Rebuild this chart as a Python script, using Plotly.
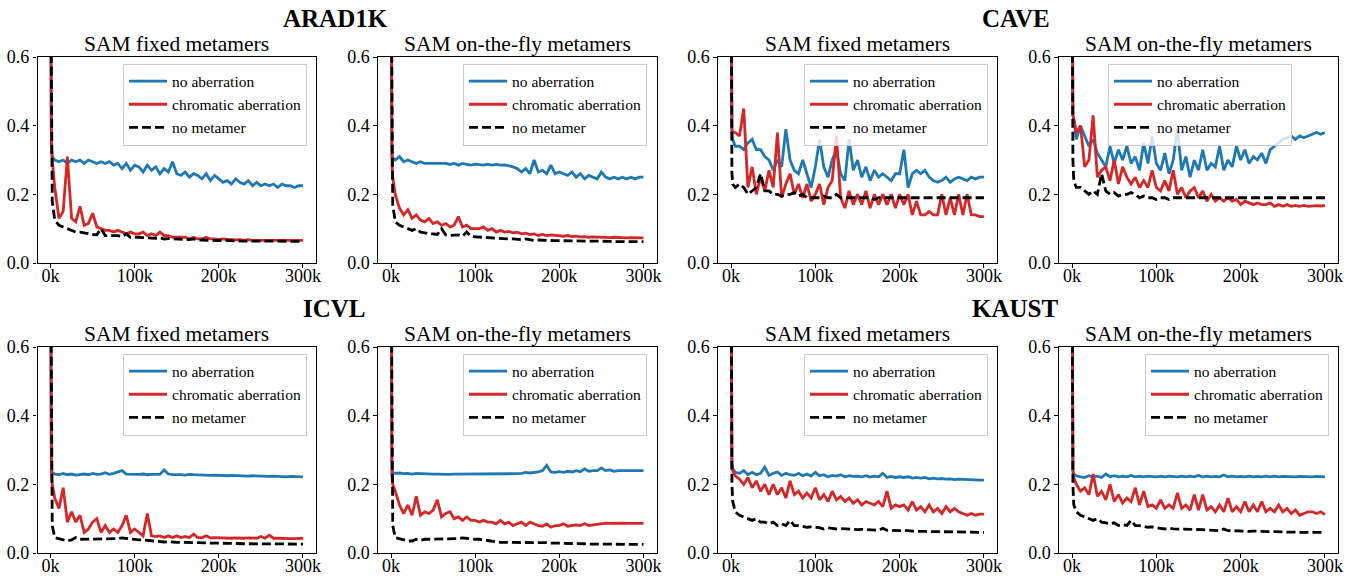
import plotly.graph_objects as go

# ---------------- data ----------------
steps_k = [0, 1, 2,
           5, 10, 15, 20, 25, 30, 35, 40, 45, 50,
           55, 60, 65, 70, 75, 80, 85, 90, 95, 100,
           105, 110, 115, 120, 125, 130, 135, 140, 145, 150,
           155, 160, 165, 170, 175, 180, 185, 190, 195, 200,
           205, 210, 215, 220, 225, 230, 235, 240, 245, 250,
           255, 260, 265, 270, 275, 280, 285, 290, 295, 300]

series_names = ["no aberration", "chromatic aberration", "no metamer"]
group_titles = ["ARAD1K", "CAVE", "ICVL", "KAUST"]
panel_titles = ["SAM fixed metamers", "SAM on-the-fly metamers"]
y_ticks = [0.0, 0.2, 0.4, 0.6]
y_tick_labels = ["0.0", "0.2", "0.4", "0.6"]
x_ticks = [0, 100, 200, 300]
x_tick_labels = ["0k", "100k", "200k", "300k"]

# ARAD1K fixed
arad_fixed_noab = [0.95, 0.34, 0.31,
    0.30, 0.295, 0.30, 0.29, 0.30, 0.295, 0.30, 0.29, 0.30, 0.295,
    0.29, 0.295, 0.29, 0.295, 0.285, 0.29, 0.275, 0.29, 0.27, 0.285,
    0.28, 0.265, 0.285, 0.27, 0.28, 0.26, 0.275, 0.265, 0.295, 0.26,
    0.255, 0.265, 0.25, 0.26, 0.255, 0.245, 0.26, 0.24, 0.255, 0.245,
    0.235, 0.24, 0.23, 0.245, 0.235, 0.23, 0.24, 0.225, 0.235, 0.225,
    0.23, 0.225, 0.23, 0.22, 0.23, 0.225, 0.225, 0.22, 0.225, 0.225]
arad_fixed_chrom = [0.95, 0.34, 0.30,
    0.22, 0.13, 0.15, 0.31, 0.13, 0.12, 0.165, 0.11, 0.115, 0.145,
    0.105, 0.10, 0.095, 0.095, 0.09, 0.095, 0.09, 0.085, 0.09, 0.085,
    0.085, 0.09, 0.08, 0.085, 0.08, 0.09, 0.08, 0.08, 0.075, 0.075,
    0.075, 0.075, 0.07, 0.075, 0.07, 0.07, 0.075, 0.07, 0.07, 0.068,
    0.07, 0.068, 0.068, 0.067, 0.068, 0.066, 0.068, 0.066, 0.067, 0.066,
    0.066, 0.067, 0.066, 0.066, 0.067, 0.066, 0.066, 0.066, 0.067, 0.066]
arad_fixed_nomet = [0.95, 0.30, 0.18,
    0.125, 0.11, 0.105, 0.10, 0.095, 0.09, 0.09, 0.087, 0.085, 0.083,
    0.082, 0.10, 0.08, 0.08, 0.078, 0.08, 0.077, 0.085, 0.075, 0.076,
    0.075, 0.074, 0.073, 0.073, 0.072, 0.074, 0.07, 0.071, 0.07, 0.07,
    0.069, 0.069, 0.068, 0.07, 0.067, 0.067, 0.066, 0.066, 0.066, 0.065,
    0.066, 0.065, 0.064, 0.065, 0.064, 0.064, 0.064, 0.063, 0.064, 0.063,
    0.063, 0.064, 0.063, 0.063, 0.063, 0.063, 0.062, 0.063, 0.063, 0.063]

# ARAD1K on-the-fly
arad_fly_noab = [0.95, 0.32, 0.305,
    0.30, 0.31, 0.295, 0.30, 0.295, 0.29, 0.295, 0.29, 0.29, 0.29,
    0.29, 0.288, 0.29, 0.287, 0.29, 0.285, 0.29, 0.287, 0.285, 0.288,
    0.286, 0.285, 0.288, 0.285, 0.287, 0.285, 0.286, 0.284, 0.28, 0.275,
    0.265, 0.275, 0.26, 0.30, 0.265, 0.27, 0.26, 0.285, 0.26, 0.265,
    0.26, 0.255, 0.265, 0.25, 0.26, 0.245, 0.255, 0.25, 0.245, 0.265,
    0.25, 0.245, 0.25, 0.245, 0.25, 0.245, 0.25, 0.245, 0.25, 0.25]
arad_fly_chrom = [0.95, 0.30, 0.25,
    0.20, 0.16, 0.14, 0.155, 0.13, 0.14, 0.125, 0.12, 0.13, 0.115,
    0.12, 0.11, 0.115, 0.105, 0.11, 0.135, 0.105, 0.11, 0.10, 0.10,
    0.10, 0.105, 0.095, 0.10, 0.09, 0.095, 0.09, 0.092, 0.088, 0.09,
    0.085, 0.087, 0.083, 0.085, 0.08, 0.083, 0.08, 0.082, 0.08, 0.08,
    0.078, 0.08, 0.077, 0.078, 0.076, 0.077, 0.075, 0.076, 0.075, 0.075,
    0.075, 0.074, 0.075, 0.074, 0.074, 0.073, 0.074, 0.073, 0.073, 0.073]
arad_fly_nomet = [0.95, 0.28, 0.17,
    0.12, 0.11, 0.105, 0.10, 0.095, 0.10, 0.09, 0.088, 0.085, 0.085,
    0.083, 0.10, 0.082, 0.08, 0.08, 0.082, 0.078, 0.09, 0.077, 0.076,
    0.075, 0.074, 0.074, 0.073, 0.072, 0.072, 0.071, 0.07, 0.07, 0.069,
    0.068, 0.07, 0.067, 0.066, 0.067, 0.066, 0.065, 0.066, 0.065, 0.065,
    0.065, 0.064, 0.064, 0.064, 0.063, 0.063, 0.064, 0.063, 0.063, 0.063,
    0.063, 0.063, 0.062, 0.063, 0.062, 0.062, 0.062, 0.062, 0.062, 0.062]

# CAVE fixed
cave_fixed_noab = [0.95, 0.38, 0.36,
    0.34, 0.34, 0.33, 0.35, 0.36, 0.33, 0.33, 0.31, 0.30, 0.27,
    0.30, 0.28, 0.39, 0.30, 0.27, 0.26, 0.30, 0.26, 0.22, 0.28,
    0.36, 0.28, 0.25, 0.30, 0.33, 0.26, 0.24, 0.36, 0.27, 0.30,
    0.25, 0.28, 0.24, 0.27, 0.25, 0.26, 0.25, 0.24, 0.26, 0.26,
    0.33, 0.22, 0.26, 0.27, 0.26, 0.27, 0.25, 0.24, 0.235, 0.24,
    0.25, 0.235, 0.245, 0.25, 0.245, 0.24, 0.25, 0.245, 0.25, 0.25]
cave_fixed_chrom = [0.95, 0.39, 0.38,
    0.38, 0.37, 0.45, 0.22, 0.28, 0.20, 0.25, 0.21, 0.27, 0.22,
    0.38, 0.19, 0.23, 0.26, 0.20, 0.23, 0.19, 0.23, 0.18, 0.20,
    0.23, 0.17, 0.22, 0.24, 0.37, 0.19, 0.16, 0.21, 0.17, 0.20,
    0.17, 0.21, 0.16, 0.20, 0.17, 0.20, 0.17, 0.20, 0.16, 0.20,
    0.17, 0.20, 0.14, 0.18, 0.14, 0.14, 0.15, 0.14, 0.14, 0.20,
    0.14, 0.19, 0.14, 0.20, 0.14, 0.20, 0.14, 0.14, 0.135, 0.135]
cave_fixed_nomet = [0.95, 0.26, 0.23,
    0.22, 0.23, 0.22, 0.20, 0.21, 0.22, 0.26, 0.21, 0.21, 0.20,
    0.20, 0.195, 0.20, 0.20, 0.205, 0.195, 0.20, 0.19, 0.19, 0.19,
    0.19, 0.195, 0.19, 0.19, 0.20, 0.19, 0.19, 0.19, 0.19, 0.19,
    0.19, 0.19, 0.19, 0.185, 0.19, 0.19, 0.19, 0.19, 0.19, 0.19,
    0.19, 0.19, 0.19, 0.19, 0.19, 0.19, 0.19, 0.19, 0.19, 0.19,
    0.19, 0.19, 0.19, 0.19, 0.19, 0.19, 0.19, 0.19, 0.19, 0.19]

# CAVE on-the-fly
cave_fly_noab = [0.95, 0.43, 0.42,
    0.36, 0.40, 0.37, 0.34, 0.36, 0.32, 0.30, 0.28, 0.34, 0.29,
    0.33, 0.30, 0.34, 0.29, 0.31, 0.27, 0.35, 0.29, 0.37, 0.29,
    0.27, 0.32, 0.26, 0.30, 0.39, 0.27, 0.31, 0.25, 0.30, 0.27,
    0.33, 0.27, 0.29, 0.28, 0.34, 0.27, 0.30, 0.28, 0.34, 0.30,
    0.33, 0.29, 0.31, 0.30, 0.32, 0.29, 0.33, 0.34, 0.35, 0.36,
    0.365, 0.37, 0.36, 0.37, 0.365, 0.37, 0.375, 0.38, 0.375, 0.38]
cave_fly_chrom = [0.95, 0.43, 0.42,
    0.38, 0.40, 0.28, 0.30, 0.43, 0.25, 0.27, 0.28, 0.24, 0.30,
    0.23, 0.28, 0.25, 0.23, 0.25, 0.22, 0.24, 0.22, 0.27, 0.22,
    0.21, 0.24, 0.21, 0.27, 0.20, 0.22, 0.19, 0.21, 0.22, 0.19,
    0.21, 0.18, 0.20, 0.18, 0.19, 0.18, 0.19, 0.18, 0.185, 0.17,
    0.18, 0.175, 0.17, 0.175, 0.17, 0.17, 0.175, 0.165, 0.17, 0.165,
    0.17, 0.165, 0.168, 0.165, 0.168, 0.165, 0.167, 0.167, 0.166, 0.167]
cave_fly_nomet = [0.95, 0.30, 0.24,
    0.22, 0.22, 0.21, 0.20, 0.21, 0.20, 0.26, 0.21, 0.20, 0.205,
    0.195, 0.20, 0.20, 0.205, 0.20, 0.19, 0.195, 0.19, 0.19, 0.185,
    0.19, 0.19, 0.185, 0.19, 0.19, 0.19, 0.19, 0.19, 0.19, 0.19,
    0.19, 0.19, 0.19, 0.19, 0.19, 0.19, 0.19, 0.19, 0.19, 0.19,
    0.19, 0.19, 0.19, 0.19, 0.19, 0.19, 0.19, 0.19, 0.19, 0.19,
    0.19, 0.19, 0.19, 0.19, 0.19, 0.19, 0.19, 0.19, 0.19, 0.19]

# ICVL fixed
icvl_fixed_noab = [0.95, 0.25, 0.235,
    0.23, 0.228, 0.232, 0.228, 0.23, 0.227, 0.228, 0.23, 0.228, 0.232,
    0.229, 0.23, 0.234, 0.229, 0.232, 0.235, 0.24, 0.23, 0.229, 0.23,
    0.229, 0.23, 0.228, 0.229, 0.228, 0.229, 0.242, 0.23, 0.228, 0.229,
    0.228, 0.227, 0.229, 0.228, 0.227, 0.228, 0.227, 0.226, 0.227, 0.226,
    0.226, 0.225, 0.226, 0.225, 0.226, 0.225, 0.224, 0.225, 0.224, 0.224,
    0.224, 0.223, 0.224, 0.223, 0.223, 0.222, 0.223, 0.222, 0.222, 0.222]
icvl_fixed_chrom = [0.95, 0.24, 0.20,
    0.16, 0.13, 0.19, 0.09, 0.12, 0.09, 0.11, 0.06, 0.07, 0.09,
    0.10, 0.06, 0.08, 0.06, 0.07, 0.06, 0.08, 0.11, 0.06, 0.07,
    0.06, 0.05, 0.115, 0.05, 0.048, 0.05, 0.045, 0.05, 0.045, 0.05,
    0.045, 0.048, 0.045, 0.055, 0.045, 0.045, 0.05, 0.044, 0.045, 0.044,
    0.045, 0.044, 0.043, 0.044, 0.043, 0.043, 0.044, 0.043, 0.043, 0.048,
    0.043, 0.052, 0.043, 0.043, 0.042, 0.043, 0.042, 0.042, 0.043, 0.043]
icvl_fixed_nomet = [0.95, 0.20, 0.08,
    0.045, 0.042, 0.04, 0.035, 0.038, 0.045, 0.04, 0.04, 0.04, 0.04,
    0.04, 0.04, 0.04, 0.04, 0.04, 0.042, 0.044, 0.042, 0.04, 0.04,
    0.038, 0.038, 0.037, 0.035, 0.033, 0.032, 0.032, 0.033, 0.031, 0.031,
    0.031, 0.03, 0.03, 0.03, 0.03, 0.029, 0.029, 0.029, 0.029, 0.028,
    0.028, 0.028, 0.028, 0.027, 0.027, 0.027, 0.027, 0.027, 0.026, 0.026,
    0.026, 0.026, 0.026, 0.026, 0.026, 0.026, 0.026, 0.026, 0.026, 0.026]

# ICVL on-the-fly
icvl_fly_noab = [0.95, 0.25, 0.235,
    0.232, 0.233, 0.231, 0.232, 0.23, 0.232, 0.231, 0.23, 0.231, 0.23,
    0.23, 0.229, 0.23, 0.229, 0.23, 0.23, 0.229, 0.23, 0.229, 0.229,
    0.229, 0.23, 0.229, 0.23, 0.229, 0.23, 0.23, 0.231, 0.23, 0.231,
    0.232, 0.235, 0.233, 0.234, 0.236, 0.24, 0.255, 0.236, 0.235, 0.237,
    0.235, 0.238, 0.236, 0.24, 0.237, 0.245, 0.238, 0.24, 0.24, 0.248,
    0.24, 0.242, 0.238, 0.24, 0.24, 0.241, 0.24, 0.241, 0.24, 0.24]
icvl_fly_chrom = [0.95, 0.23, 0.20,
    0.18, 0.14, 0.115, 0.14, 0.11, 0.165, 0.11, 0.12, 0.115, 0.125,
    0.155, 0.105, 0.115, 0.12, 0.10, 0.105, 0.095, 0.105, 0.095, 0.095,
    0.09, 0.095, 0.09, 0.09, 0.085, 0.095, 0.085, 0.09, 0.08, 0.085,
    0.09, 0.08, 0.09, 0.085, 0.08, 0.078, 0.085, 0.075, 0.08, 0.08,
    0.085, 0.078, 0.08, 0.082, 0.08, 0.085, 0.08, 0.082, 0.085, 0.087,
    0.087, 0.086, 0.087, 0.086, 0.087, 0.086, 0.086, 0.086, 0.086, 0.086]
icvl_fly_nomet = [0.95, 0.20, 0.08,
    0.045, 0.042, 0.037, 0.035, 0.035, 0.04, 0.037, 0.04, 0.04, 0.04,
    0.04, 0.04, 0.04, 0.04, 0.04, 0.042, 0.044, 0.042, 0.04, 0.04,
    0.04, 0.038, 0.037, 0.035, 0.032, 0.031, 0.031, 0.031, 0.032, 0.031,
    0.031, 0.031, 0.03, 0.03, 0.03, 0.03, 0.03, 0.029, 0.029, 0.028,
    0.028, 0.027, 0.027, 0.027, 0.027, 0.027, 0.026, 0.026, 0.026, 0.026,
    0.026, 0.026, 0.025, 0.025, 0.025, 0.025, 0.025, 0.025, 0.025, 0.025]

# KAUST fixed
kaust_fixed_noab = [0.95, 0.26, 0.245,
    0.235, 0.232, 0.24, 0.228, 0.235, 0.228, 0.232, 0.25, 0.226, 0.232,
    0.236, 0.226, 0.232, 0.228, 0.226, 0.232, 0.225, 0.23, 0.224, 0.235,
    0.225, 0.228, 0.222, 0.226, 0.224, 0.228, 0.222, 0.225, 0.223, 0.224,
    0.222, 0.225, 0.221, 0.224, 0.222, 0.232, 0.22, 0.223, 0.22, 0.222,
    0.22, 0.222, 0.218, 0.22, 0.218, 0.22, 0.216, 0.218, 0.216, 0.217,
    0.215, 0.216, 0.214, 0.215, 0.214, 0.214, 0.213, 0.213, 0.212, 0.212]
kaust_fixed_chrom = [0.95, 0.25, 0.24,
    0.225, 0.215, 0.20, 0.22, 0.19, 0.21, 0.18, 0.20, 0.17, 0.20,
    0.17, 0.19, 0.16, 0.21, 0.17, 0.18, 0.16, 0.175, 0.16, 0.19,
    0.155, 0.17, 0.15, 0.18, 0.155, 0.165, 0.15, 0.16, 0.145, 0.155,
    0.14, 0.15, 0.145, 0.14, 0.15, 0.135, 0.18, 0.13, 0.14, 0.135,
    0.14, 0.125, 0.15, 0.125, 0.135, 0.12, 0.14, 0.12, 0.13, 0.115,
    0.135, 0.12, 0.13, 0.12, 0.115, 0.11, 0.115, 0.11, 0.113, 0.113]
kaust_fixed_nomet = [0.95, 0.20, 0.15,
    0.12, 0.11, 0.105, 0.10, 0.095, 0.10, 0.09, 0.09, 0.085, 0.09,
    0.08, 0.085, 0.08, 0.095, 0.08, 0.08, 0.078, 0.075, 0.076, 0.075,
    0.074, 0.07, 0.073, 0.072, 0.07, 0.071, 0.07, 0.07, 0.07, 0.068,
    0.069, 0.068, 0.066, 0.067, 0.066, 0.072, 0.066, 0.066, 0.065, 0.065,
    0.066, 0.064, 0.064, 0.063, 0.064, 0.063, 0.062, 0.063, 0.062, 0.062,
    0.062, 0.061, 0.062, 0.061, 0.061, 0.061, 0.06, 0.06, 0.06, 0.06]

# KAUST on-the-fly
kaust_fly_noab = [0.95, 0.24, 0.23,
    0.225, 0.222, 0.22, 0.225, 0.222, 0.224, 0.22, 0.23, 0.222, 0.225,
    0.222, 0.224, 0.222, 0.226, 0.222, 0.224, 0.222, 0.224, 0.222, 0.222,
    0.224, 0.222, 0.224, 0.222, 0.222, 0.224, 0.222, 0.224, 0.222, 0.226,
    0.222, 0.224, 0.222, 0.223, 0.222, 0.227, 0.222, 0.224, 0.222, 0.223,
    0.222, 0.224, 0.222, 0.223, 0.222, 0.224, 0.222, 0.224, 0.222, 0.223,
    0.222, 0.223, 0.222, 0.223, 0.222, 0.222, 0.222, 0.223, 0.222, 0.222]
kaust_fly_chrom = [0.95, 0.24, 0.22,
    0.20, 0.18, 0.19, 0.17, 0.23, 0.165, 0.18, 0.155, 0.20, 0.15,
    0.17, 0.145, 0.16, 0.15, 0.19, 0.14, 0.18, 0.135, 0.14, 0.13,
    0.155, 0.13, 0.14, 0.13, 0.175, 0.13, 0.14, 0.125, 0.17, 0.125,
    0.17, 0.125, 0.135, 0.12, 0.14, 0.12, 0.16, 0.12, 0.135, 0.12,
    0.15, 0.12, 0.14, 0.12, 0.15, 0.12, 0.13, 0.12, 0.14, 0.12,
    0.13, 0.115, 0.125, 0.11, 0.115, 0.12, 0.12, 0.115, 0.12, 0.112]
kaust_fly_nomet = [0.95, 0.20, 0.14,
    0.12, 0.11, 0.105, 0.10, 0.095, 0.10, 0.09, 0.088, 0.085, 0.088,
    0.08, 0.083, 0.08, 0.095, 0.08, 0.08, 0.078, 0.075, 0.076, 0.075,
    0.072, 0.07, 0.073, 0.07, 0.07, 0.07, 0.07, 0.07, 0.068, 0.07,
    0.068, 0.067, 0.066, 0.066, 0.065, 0.07, 0.065, 0.065, 0.064, 0.064,
    0.064, 0.063, 0.064, 0.063, 0.063, 0.062, 0.062, 0.062, 0.061, 0.061,
    0.061, 0.061, 0.06, 0.06, 0.06, 0.06, 0.06, 0.06, 0.06, 0.06]

panels = [
    (arad_fixed_noab, arad_fixed_chrom, arad_fixed_nomet),
    (arad_fly_noab, arad_fly_chrom, arad_fly_nomet),
    (cave_fixed_noab, cave_fixed_chrom, cave_fixed_nomet),
    (cave_fly_noab, cave_fly_chrom, cave_fly_nomet),
    (icvl_fixed_noab, icvl_fixed_chrom, icvl_fixed_nomet),
    (icvl_fly_noab, icvl_fly_chrom, icvl_fly_nomet),
    (kaust_fixed_noab, kaust_fixed_chrom, kaust_fixed_nomet),
    (kaust_fly_noab, kaust_fly_chrom, kaust_fly_nomet),
]
for p in panels:
    for s in p:
        if len(s) != len(steps_k):
            raise ValueError("length mismatch %d" % len(s))

# ---------------- layout ----------------
W, H = 1356, 576
FONT = "Liberation Serif, serif"
colors = ["#1f77b4", "#d62728", "#000000"]
dashes = ["solid", "solid", "9px,4px"]

col_px = [(37.5, 316), (378, 656.5), (718, 997), (1059, 1338)]
row_px = [(57, 263), (347, 553)]
legend_right_px = [307, 647, 988, 1292, 307, 647, 988, 1329]

fig = go.Figure()
layout = dict(
    width=W, height=H, autosize=False,
    margin=dict(l=0, r=0, t=0, b=0, pad=0, autoexpand=False),
    paper_bgcolor="white", plot_bgcolor="white",
    font=dict(family=FONT, color="black"),
    annotations=[],
)

for i, p in enumerate(panels):
    r, c = divmod(i, 4)
    n = i + 1
    xa = "xaxis" if n == 1 else f"xaxis{n}"
    ya = "yaxis" if n == 1 else f"yaxis{n}"
    xr = "x" if n == 1 else f"x{n}"
    yr = "y" if n == 1 else f"y{n}"
    lg = "legend" if n == 1 else f"legend{n}"
    x0, x1 = col_px[c]
    y0, y1 = row_px[r]
    for k, s in enumerate(p):
        fig.add_trace(go.Scatter(
            x=steps_k, y=s, mode="lines", name=series_names[k],
            line=dict(color=colors[k], width=2.8, dash=dashes[k]),
            xaxis=xr, yaxis=yr, legend=lg, showlegend=True,
        ))
    axis_common = dict(
        showline=True, linecolor="black", linewidth=1.4, mirror=True,
        showgrid=False, zeroline=False, ticks="outside", ticklen=3.5,
        tickwidth=1.0, tickcolor="black", automargin=False,
        tickfont=dict(family=FONT, size=18, color="black"),
    )
    layout[xa] = dict(axis_common, domain=[x0 / W, x1 / W], anchor=yr,
                      range=[-15.5, 315.5], tickvals=x_ticks,
                      ticktext=x_tick_labels, ticklabelstandoff=-7)
    layout[ya] = dict(axis_common, domain=[1 - y1 / H, 1 - y0 / H], anchor=xr,
                      range=[0, 0.6], tickvals=y_ticks,
                      ticktext=y_tick_labels)
    layout[lg] = dict(
        x=legend_right_px[i] / W, y=1 - (y0 + 6.5) / H,
        xanchor="right", yanchor="top", xref="paper", yref="paper",
        bgcolor="rgba(255,255,255,0.8)", bordercolor="#cccccc", borderwidth=1,
        font=dict(family=FONT, size=15.5, color="black"),
        tracegroupgap=0, itemwidth=38,
    )
    layout["annotations"].append(dict(
        text=panel_titles[c % 2], x=(x0 + x1) / 2 / W, y=1 - (y0 + 1) / H,
        xref="paper", yref="paper", xanchor="center", yanchor="bottom",
        showarrow=False, font=dict(family=FONT, size=21.5, color="black"),
    ))

group_centers = [(335.5, 18), (1015.5, 18), (334, 308), (1015, 308)]
for t, (cx, cy) in zip(group_titles, group_centers):
    layout["annotations"].append(dict(
        text="<b>" + t + "</b>", x=cx / W, y=1 - cy / H,
        xref="paper", yref="paper", xanchor="center", yanchor="middle",
        showarrow=False, font=dict(family=FONT, size=25, color="black"),
    ))

fig.update_layout(**layout)
fig.write_html("out.html")
